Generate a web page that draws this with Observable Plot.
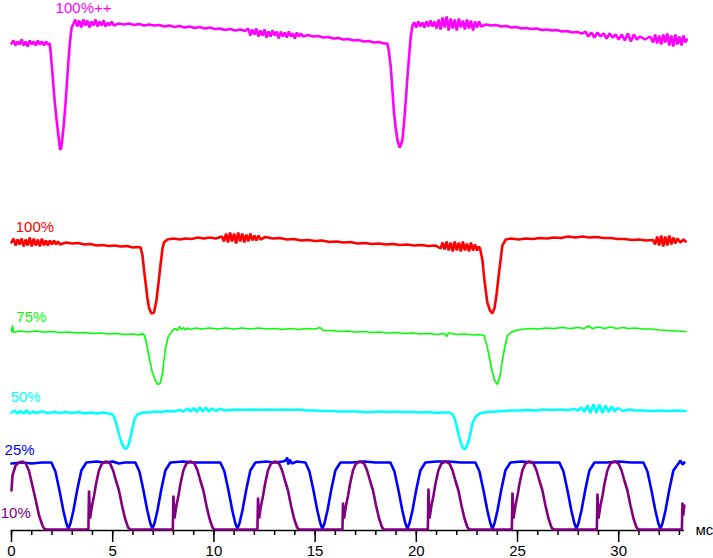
<!DOCTYPE html>
<html>
<head>
<meta charset="utf-8">
<script src="https://cdn.jsdelivr.net/npm/d3@7"></script>
<script src="https://cdn.jsdelivr.net/npm/@observablehq/plot@0.6"></script>
<style>
  html, body { margin: 0; padding: 0; background: #ffffff; }
  #chart { width: 713px; height: 558px; }
</style>
</head>
<body>
<div id="chart"></div>
<script>
// ---- Data (time in ms, brightness in arbitrary units) ----
const seriesNames = ["100%++", "100%", "75%", "50%", "25%", "10%"];

const trace100pp = [
  [0,487],[0.1,490],[0.2,485],[0.3,489],[0.4,486],[0.5,491],[0.6,485],[0.7,489],[0.8,484],[0.9,490],[1.0,486],[1.1,489],[1.2,485],[1.3,490],[1.4,486],[1.5,489],[1.6,485],[1.7,489],[1.8,486],[1.89,487],
  [1.94,477],[2.04,453],[2.13,430],[2.23,410],[2.33,393],[2.40,381],[2.45,382],[2.50,390],[2.58,405],[2.68,430],[2.78,460],[2.88,487],[2.97,503],
  [3.07,507],[3.15,511],[3.25,504],[3.35,510],[3.45,503],[3.55,511],[3.65,505],[3.75,510],[3.85,503],[3.95,509],[4.05,505],[4.15,511],[4.25,504],[4.35,509],[4.45,505],[4.55,510],[4.65,504],[4.75,508],[4.85,505],[4.95,509],[5.05,505],
  [5.3,507],[5.55,506],[5.8,507],[6.05,505.5],[6.3,506.5],[6.55,505],[6.8,506],[7.05,505],[7.3,505.5],[7.55,504],[7.8,505],[8.05,503.5],[8.3,504.5],[8.55,503],[8.8,504],[9.05,502.5],[9.3,503.5],[9.55,502],[9.8,503],[10.05,501.5],[10.3,502],[10.55,500.5],[10.8,501.5],[11.05,500],[11.3,501],[11.55,499.5],
  [11.7,502],[11.8,495],[11.9,501],[12.0,496],[12.1,502],[12.2,494],[12.3,500],[12.4,495],[12.5,501],[12.6,493],[12.7,499],[12.8,494],[12.9,500],[13.0,495],[13.1,499],[13.2,492],[13.3,499],[13.4,494],[13.5,498],[13.6,493],[13.7,499],[13.8,494],[13.9,497],[14.0,492],[14.1,498],[14.2,494],[14.3,497],[14.4,494],
  [14.65,495.5],[14.9,494],[15.15,494.5],[15.4,493],[15.65,493.5],[15.9,492],[16.15,492.5],[16.4,491],[16.65,491.5],[16.9,490],[17.15,490.5],[17.4,489],[17.65,489.5],[17.9,488],[18.15,488.5],[18.4,487],[18.57,487],
  [18.64,480],[18.74,463],[18.82,440],[18.90,417],[18.98,403],[19.07,390],[19.18,383],[19.31,390],[19.39,407],[19.48,430],[19.56,453],[19.64,473],[19.72,493],
  [19.81,505],[19.9,508],[20.0,503],[20.1,509],[20.2,504],[20.3,508],[20.4,503],[20.5,509],[20.6,504],[20.7,510],[20.8,504],[20.9,509],
  [21.0,502],[21.1,511],[21.2,501],[21.3,513],[21.4,503],[21.5,514],[21.6,500],[21.7,512],[21.8,502],[21.9,511],[22.0,500],[22.1,512],[22.2,503],[22.3,510],[22.4,501],[22.5,511],[22.6,502],[22.7,510],[22.8,500],[22.9,509],[23.0,503],[23.1,509],[23.2,504],
  [23.45,506],[23.7,505],[23.95,505.5],[24.2,504],[24.45,504.5],[24.7,503],[24.95,503.5],[25.2,502],[25.45,502.5],[25.7,501.5],[25.95,502],[26.2,500.5],[26.45,501],[26.7,500],[26.95,500.5],[27.2,499],[27.45,499.5],[27.7,498],[27.95,498.5],[28.2,497],
  [28.35,499],[28.5,494],[28.65,498],[28.8,493],[28.95,498],[29.1,494],[29.25,497],[29.4,492],[29.55,497],[29.7,493],[29.85,496],[30.0,491],[30.15,496],[30.3,490],[30.45,497],[30.6,489],[30.75,496],[30.9,491],
  [31.05,494],[31.3,491],[31.55,494],
  [31.7,488],[31.8,496],[31.9,487],[32.0,495],[32.1,486],[32.2,496],[32.3,488],[32.4,497],[32.5,485],[32.6,495],[32.7,484],[32.8,496],[32.9,486],[33.0,494],[33.1,485],[33.2,495],[33.3,488],[33.36,491]
];

const trace100 = [
  [0,288],[0.1,292],[0.2,285],[0.3,291],[0.4,286],[0.5,292],[0.6,284],[0.7,291],[0.8,285],[0.9,293],[1.0,284],[1.1,292],[1.2,285],[1.3,291],[1.4,284],[1.5,292],[1.6,285],[1.7,290],[1.8,285],[1.9,290],[2.0,286],[2.1,290],[2.2,286],[2.3,289],[2.4,286],
  [2.7,288],[3.0,287],[3.3,287.5],[3.6,286],[3.9,286.5],[4.2,285],[4.5,285.5],[4.8,284.5],[5.1,285],[5.4,284],[5.7,284.5],[6.0,283],[6.2,283.5],[6.38,283],
  [6.47,275],[6.55,260],[6.63,247],[6.71,233],[6.79,223],[6.91,217],[7.04,218],[7.16,230],[7.26,247],[7.37,267],[7.46,282],[7.53,288],[7.70,291],
  [8.0,292],[8.3,291],[8.6,292],[8.9,291.5],[9.2,293],[9.5,292],[9.8,293],[10.1,292],[10.4,294],
  [10.5,289],[10.6,297],[10.7,288],[10.8,298],[10.9,289],[11.0,297],[11.1,287],[11.2,298],[11.3,289],[11.4,297],[11.5,288],[11.6,296],[11.7,289],[11.8,297],[11.9,290],[12.0,295],[12.1,290],[12.2,295],[12.3,291],
  [12.55,293.5],[12.9,292],[13.25,292.5],[13.6,291],[13.95,291.5],[14.3,290],[14.65,290.5],[15.0,289.5],[15.35,290],[15.7,288.5],[16.05,289],[16.4,288],[16.75,288.5],[17.1,287],[17.45,287.5],[17.8,286.5],[18.15,287],[18.5,286],[18.85,286.5],[19.2,285.5],[19.55,286],[19.9,285],[20.25,285.5],[20.6,284.5],[20.95,285],
  [21.2,282],[21.3,288],[21.4,281],[21.5,289],[21.6,280],[21.7,288],[21.8,279],[21.9,289],[22.0,280],[22.1,288],[22.2,279],[22.3,289],[22.4,280],[22.5,287],[22.6,279],[22.7,288],[22.8,280],[22.9,286],[23.0,280],[23.08,284],[23.15,282],
  [23.27,270],[23.35,253],[23.43,240],[23.51,228],[23.64,220],[23.76,217],[23.87,223],[23.97,237],[24.06,253],[24.18,273],[24.25,285],[24.42,291],
  [24.7,292],[25.05,291],[25.4,292],[25.75,291.5],[26.1,292.5],[26.45,292],[26.8,293],[27.15,292.5],[27.5,294],[27.85,293],[28.2,294],[28.55,293],[28.9,293.5],[29.25,292.5],[29.6,292.5],[29.95,291.5],[30.3,291.5],[30.65,290.5],[31.0,291],[31.35,290],[31.7,290.5],
  [31.8,286],[31.9,294],[32.0,285],[32.1,295],[32.2,284],[32.3,294],[32.4,285],[32.5,295],[32.6,286],[32.7,293],[32.8,287],[32.9,292],[33.05,288],[33.2,291],[33.31,289]
];

const trace75 = [
  [0,199],[0.05,205],[0.1,198],[0.4,199.5],[0.8,198.5],[1.2,199.5],[1.6,198.5],[2.0,199],[2.4,198],[2.8,198.5],[3.2,197.5],[3.6,198],[4.0,197],[4.4,197.5],[4.8,196.5],[5.2,197],[5.6,196],[6.0,196.5],[6.3,195.5],[6.45,197],[6.58,195],
  [6.71,183],[6.83,170],[6.96,158],[7.07,152],[7.21,146],[7.34,147],[7.46,157],[7.53,170],[7.62,183],[7.73,193],
  [7.95,200],[8.1,202],[8.2,200],[8.3,204],[8.4,201],[8.5,203],[8.6,200.5],[8.7,202.5],[8.85,201],[9.1,202.5],[9.4,201.5],[9.8,202.5],[10.2,201.5],[10.6,202.5],[11.0,201.5],[11.4,202.5],[11.8,201.5],[12.2,202.5],[12.6,201.5],[13.0,202],[13.4,201],[13.8,202],[14.2,201],[14.6,202],[15.0,201.5],[15.25,203],[15.4,200],[15.8,200],[16.2,199],[16.6,199.5],[17.0,198.5],[17.4,199],[17.8,198],[18.2,198.5],[18.6,197.5],[19.0,198],[19.4,197],[19.8,197.5],[20.2,196.5],[20.6,197],[21.0,196],[21.4,197],[21.5,194],[21.6,197.5],[22.0,196],[22.4,196.5],[22.8,195.5],[23.1,196],[23.35,195],
  [23.51,183],[23.64,170],[23.76,158],[23.87,150],[24.01,146],[24.14,155],[24.25,170],[24.37,183],[24.50,195],
  [24.67,198],[24.9,200],[25.16,201],[25.6,202],[26.0,201.5],[26.4,202.5],[26.8,202],[27.2,203],[27.6,202],[28.0,203],[28.3,202],[28.5,204.5],[28.7,202],[29.0,203.5],[29.3,202],[29.6,203.5],[29.9,202],[30.2,203],[30.5,202],[30.8,202.5],[31.2,201.5],[31.6,201.5],[32.0,200.5],[32.4,200],[32.8,199.5],[33.31,199]
];

const trace50 = [
  [0,118],[0.15,120],[0.3,117],[0.45,119.5],[0.6,117],[0.75,120],[0.9,117],[1.05,119],[1.2,117.5],[1.5,119],[1.8,117.5],[2.1,118.5],[2.4,117.5],[2.7,118.5],[3.0,117.5],[3.3,118.5],[3.6,117],[3.9,118],[4.2,117],[4.5,118],[4.8,117],[5.0,116],
  [5.10,112],[5.20,105],[5.30,97],[5.40,90],[5.50,85],[5.59,82],[5.69,82],[5.79,86],[5.89,94],[5.99,104],[6.09,112],
  [6.23,116],[6.5,118],[6.8,118],[7.1,119],[7.4,118.5],[7.7,119.5],[8.0,119],[8.3,120.5],[8.5,119],[8.7,122],[8.85,119],[9.0,122.5],[9.15,118.5],[9.3,123],[9.45,119],[9.6,123],[9.75,119],[9.9,122],[10.1,119.5],[10.3,121.5],[10.6,120],[11.0,121],[11.4,120.5],[11.8,121],[12.2,120.5],[12.6,121],[13.0,120.5],[13.4,121],[13.8,120.5],[14.2,121],[14.6,120],[15.0,120],[15.4,119.5],[15.8,119.5],[16.2,119],[16.6,119],[17.0,119],[17.4,118.5],[17.8,118.5],[18.2,119],[18.6,118.5],[19.0,119],[19.4,118.5],[19.8,118.5],[20.2,118],[20.6,118.5],[21.0,117.5],[21.3,118],[21.65,118],
  [21.80,116],[21.90,112],[22.00,104],[22.10,95],[22.20,88],[22.29,83],[22.39,81],[22.49,84],[22.59,90],[22.69,99],[22.79,108],[22.94,114],
  [23.13,117],[23.5,118.5],[23.9,119],[24.3,119.5],[24.7,120],[25.1,120],[25.5,120.5],[25.9,120],[26.3,121],[26.7,120.5],[27.1,121],[27.5,120.5],[27.8,121.5],[28.0,120],[28.15,123],[28.3,118.5],[28.45,125],[28.6,117.5],[28.75,126],[28.9,118],[29.05,126],[29.2,117.5],[29.35,125],[29.5,118.5],[29.65,124],[29.8,119],[29.95,122.5],[30.2,119.5],[30.5,121],[30.8,120],[31.2,120],[31.6,119.5],[32.0,120],[32.4,119.5],[32.8,120],[33.31,119.5]
];

const trace25 = [
  [0,67],[0.5,68],[1.0,67],[1.5,68],[1.97,68],[2.17,59],[2.37,40],[2.56,20],[2.71,7],[2.81,2],[2.91,7],[3.06,20],[3.25,41],[3.45,60],[3.70,68],[4.2,69],[4.6,68],[5.0,69],[5.3,67],[5.6,68],[6.12,68],
  [6.32,59],[6.52,40],[6.71,20],[6.86,7],[6.96,2],[7.06,7],[7.21,20],[7.40,41],[7.60,60],[7.85,68],[8.5,69],[9.0,68],[9.6,68],[10.32,68],
  [10.52,59],[10.72,40],[10.91,20],[11.06,7],[11.16,2],[11.26,7],[11.41,20],[11.60,41],[11.80,60],[12.05,68],[12.6,69],[13.0,68],[13.4,69],[13.55,70],[13.62,73],[13.68,66],[13.75,71],[13.85,67],[14.1,69],[14.52,68],
  [14.72,59],[14.92,40],[15.11,20],[15.26,7],[15.36,2],[15.46,7],[15.61,20],[15.80,41],[16.00,60],[16.25,68],[16.8,68],[17.4,69],[18.0,68],[18.72,68],
  [18.92,59],[19.12,40],[19.31,20],[19.46,7],[19.56,2],[19.66,7],[19.81,20],[20.00,41],[20.20,60],[20.45,68],[21.0,69],[21.6,69],[22.2,68],[22.92,68],
  [23.12,59],[23.32,40],[23.51,20],[23.66,7],[23.76,2],[23.86,7],[24.01,20],[24.20,41],[24.40,60],[24.65,68],[25.2,69],[25.8,68],[26.4,68],[27.07,68],
  [27.27,59],[27.47,40],[27.66,20],[27.81,7],[27.91,2],[28.01,7],[28.16,20],[28.35,41],[28.55,60],[28.80,68],[29.4,68],[30.0,69],[30.6,68],[31.22,68],
  [31.42,59],[31.62,40],[31.81,20],[31.96,7],[32.06,2],[32.16,7],[32.31,20],[32.50,41],[32.70,60],[32.95,67],[33.05,70],[33.15,66],[33.24,68]
];

const trace10 = [
  [0,40],[0.05,55],[0.2,65],[0.37,68],[0.55,69],[0.70,67],[0.86,60],[1.03,45],[1.20,30],[1.36,15],[1.53,5],[1.61,2],[1.70,1],
  [3.80,1],[3.83,40],[3.88,12],[3.98,25],[4.08,35],[4.18,47],[4.32,60],[4.47,67],[4.67,69],[4.87,67],[5.02,60],[5.16,50],[5.31,40],[5.46,25],[5.61,12],[5.76,3],[5.86,1],
  [7.97,1],[8.00,35],[8.05,12],[8.15,25],[8.25,35],[8.35,47],[8.49,60],[8.64,67],[8.84,69],[9.04,67],[9.19,60],[9.33,50],[9.48,40],[9.63,25],[9.78,12],[9.93,3],[10.03,1],
  [12.15,1],[12.18,33],[12.23,12],[12.33,25],[12.43,35],[12.53,47],[12.67,60],[12.82,67],[13.02,69],[13.22,67],[13.37,60],[13.51,50],[13.66,40],[13.81,25],[13.96,12],[14.11,3],[14.21,1],
  [16.35,1],[16.38,28],[16.43,12],[16.53,25],[16.63,35],[16.73,47],[16.87,60],[17.02,67],[17.22,69],[17.42,67],[17.57,60],[17.71,50],[17.86,40],[18.01,25],[18.16,12],[18.31,3],[18.41,1],
  [20.57,1],[20.60,42],[20.65,12],[20.75,25],[20.85,35],[20.95,47],[21.09,60],[21.24,67],[21.44,69],[21.64,67],[21.79,60],[21.93,50],[22.08,40],[22.23,25],[22.38,12],[22.53,3],[22.63,1],
  [24.72,1],[24.75,38],[24.80,12],[24.90,25],[25.00,35],[25.10,47],[25.24,60],[25.39,67],[25.59,69],[25.79,67],[25.94,60],[26.08,50],[26.23,40],[26.38,25],[26.53,12],[26.68,3],[26.78,1],
  [28.92,1],[28.95,37],[29.00,12],[29.10,25],[29.20,35],[29.30,47],[29.44,60],[29.59,67],[29.79,69],[29.99,67],[30.14,60],[30.28,50],[30.43,40],[30.58,25],[30.73,12],[30.88,3],[30.98,1],
  [33.12,1],[33.15,28],[33.19,15],[33.24,25]
];

const majorTicks = [0, 5, 10, 15, 20, 25, 30];
const minorTicks = [0,1,2,3,4,5,6,7,8,9,10,11,12,13,14,15,16,17,18,19,20,21,22,23,24,25,26,27,28,29,30,31,32,33];
const unitLabel = "мс";

// ---- Layout / style ----
const traces = [trace100pp, trace100, trace75, trace50, trace25, trace10];
const colors = ["#ff00ff", "#ff0000", "#00ff00", "#00ffff", "#0000ff", "#800080"];
const widths = [2.6, 2.6, 1.6, 2.6, 2.6, 2.6];
const labelAt = [[2.18, 518], [0.21, 299], [0.24, 209], [-0.04, 129], [-0.34, 76], [-0.53, 13]];

const labelRows = seriesNames.map((name, i) => ({name, x: labelAt[i][0], y: labelAt[i][1], color: colors[i]}));

const marks = [
  Plot.ruleY([0], {stroke: "#000", strokeWidth: 1.5}),
  Plot.axisX(minorTicks, {tickSize: 5, tickFormat: () => "", label: null, strokeWidth: 1.5, stroke: "#000"}),
  Plot.axisX(majorTicks, {tickSize: 12, tickPadding: 3, fontSize: 15, label: null, strokeWidth: 1.5, stroke: "#000", fill: "#000"}),
];
traces.forEach((tr, i) => {
  marks.push(Plot.line(tr, {x: d => d[0], y: d => d[1], stroke: colors[i], strokeWidth: widths[i], strokeLinejoin: "miter"}));
});
marks.push(Plot.text(labelRows, {x: "x", y: "y", text: "name", fill: "color", textAnchor: "start", lineAnchor: "bottom", fontSize: 15}));
marks.push(Plot.text([unitLabel], {x: 33.25, y: 0, text: d => d, dx: 11, textAnchor: "start", lineAnchor: "middle", fontSize: 15, fill: "#000"}));

const chart = Plot.plot({
  width: 713,
  height: 558,
  marginTop: 0,
  marginBottom: 28,
  marginLeft: 11,
  marginRight: 29,
  x: {domain: [0, 33.25], axis: null},
  y: {domain: [0, 530], axis: null},
  style: {fontFamily: "'Liberation Sans', Arial, sans-serif", fontSize: "15px", color: "#000", background: "#fff", overflow: "visible"},
  marks
});
document.getElementById("chart").appendChild(chart);
</script>
</body>
</html>
